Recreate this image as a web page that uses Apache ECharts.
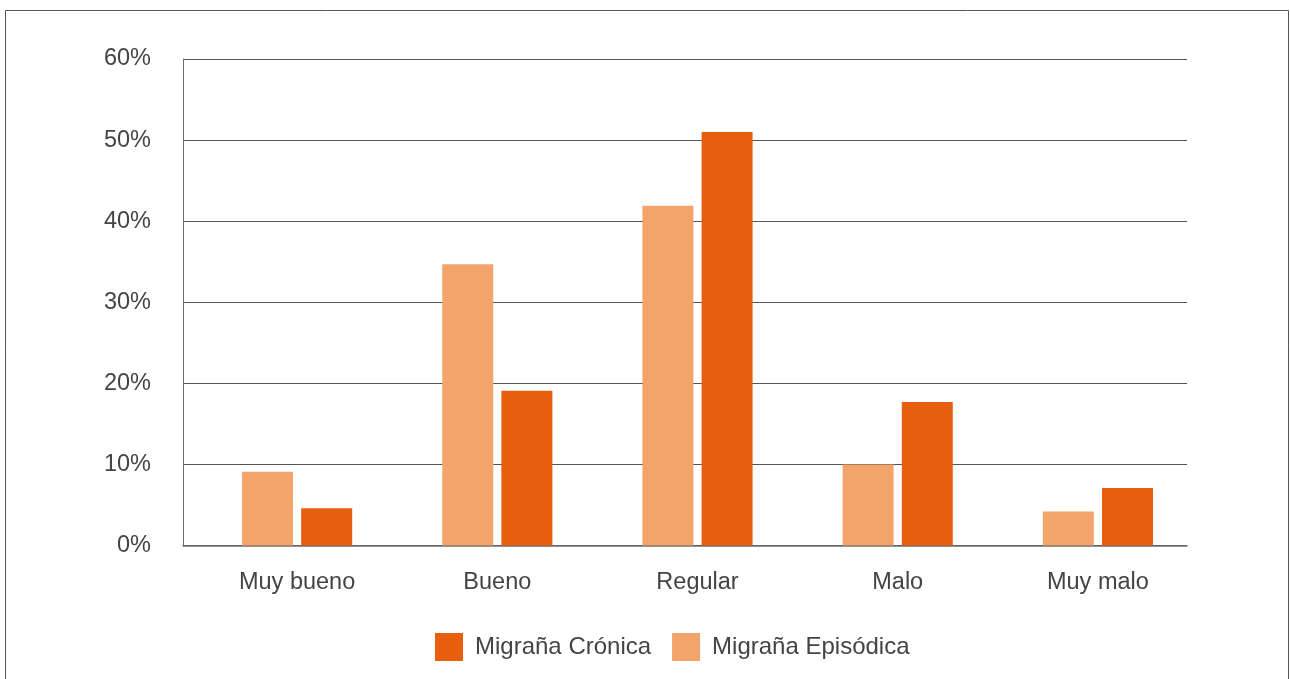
<!DOCTYPE html>
<html><head><meta charset="utf-8">
<script src="https://cdn.jsdelivr.net/npm/echarts@6/dist/echarts.min.js"></script>
<style>html,body{margin:0;padding:0;background:#fff}#c{width:1290px;height:679px}</style>
</head><body><div id="c"></div>
<script>
const categories = ['Muy bueno', 'Bueno', 'Regular', 'Malo', 'Muy malo'];
const episodica = [9.1, 34.7, 41.9, 10.0, 4.2];
const cronica = [4.6, 19.1, 51.0, 17.7, 7.1];
const seriesNames = ['Migraña Crónica', 'Migraña Episódica'];
const yTicks = { min: 0, max: 60, interval: 10 };

const FONT = '"Liberation Sans", Arial, sans-serif';
const chart = echarts.init(document.getElementById('c'), null, { renderer: 'canvas' });
chart.setOption({
  animation: false,
  textStyle: { fontFamily: FONT },
  grid: [
    { left: 183, right: 103, top: 59, bottom: 133.5, containLabel: false },
    { left: 197, width: 1001, top: 59, bottom: 133.5, containLabel: false }
  ],
  xAxis: [
    { gridIndex: 0, type: 'category', data: categories,
      axisLine: { show: true, lineStyle: { color: '#6e6e6e', width: 1.5 } },
      axisTick: { show: false }, axisLabel: { show: false }, splitLine: { show: false } },
    { gridIndex: 1, type: 'category', data: categories,
      axisLine: { show: false }, axisTick: { show: false },
      axisLabel: { show: true, color: '#444', fontSize: 23.5, margin: 25, fontFamily: FONT } }
  ],
  yAxis: [
    { gridIndex: 0, type: 'value', min: yTicks.min, max: yTicks.max, interval: yTicks.interval,
      axisLine: { show: true, lineStyle: { color: '#6e6e6e', width: 1 } },
      axisTick: { show: false },
      splitLine: { show: true, lineStyle: { color: '#555', width: 1 } },
      axisLabel: { color: '#444', fontSize: 23.5, margin: 32, padding: [0, 0, 14, 0],
        formatter: v => v + '%', fontFamily: FONT } },
    { gridIndex: 1, type: 'value', min: yTicks.min, max: yTicks.max, interval: yTicks.interval,
      show: false }
  ],
  legend: {
    left: 435, top: 633, padding: 0, itemWidth: 28, itemHeight: 28, itemGap: 21, icon: 'rect',
    data: seriesNames,
    textStyle: { fontSize: 24, color: '#444', padding: [0, 0, 0, 7], fontFamily: FONT }
  },
  series: [
    { name: seriesNames[1], type: 'bar', xAxisIndex: 1, yAxisIndex: 1, data: episodica,
      barWidth: 51, barGap: '16%', itemStyle: { color: '#F3A46A' } },
    { name: seriesNames[0], type: 'bar', xAxisIndex: 1, yAxisIndex: 1, data: cronica,
      barWidth: 51, barGap: '16%', itemStyle: { color: '#E65E0E' } }
  ],
  graphic: [
    { type: 'polyline', shape: { points: [[5.5, 680], [5.5, 10.5], [1288.5, 10.5], [1288.5, 680]] },
      style: { stroke: '#555', lineWidth: 1, fill: null }, silent: true }
  ]
});
</script></body></html>
